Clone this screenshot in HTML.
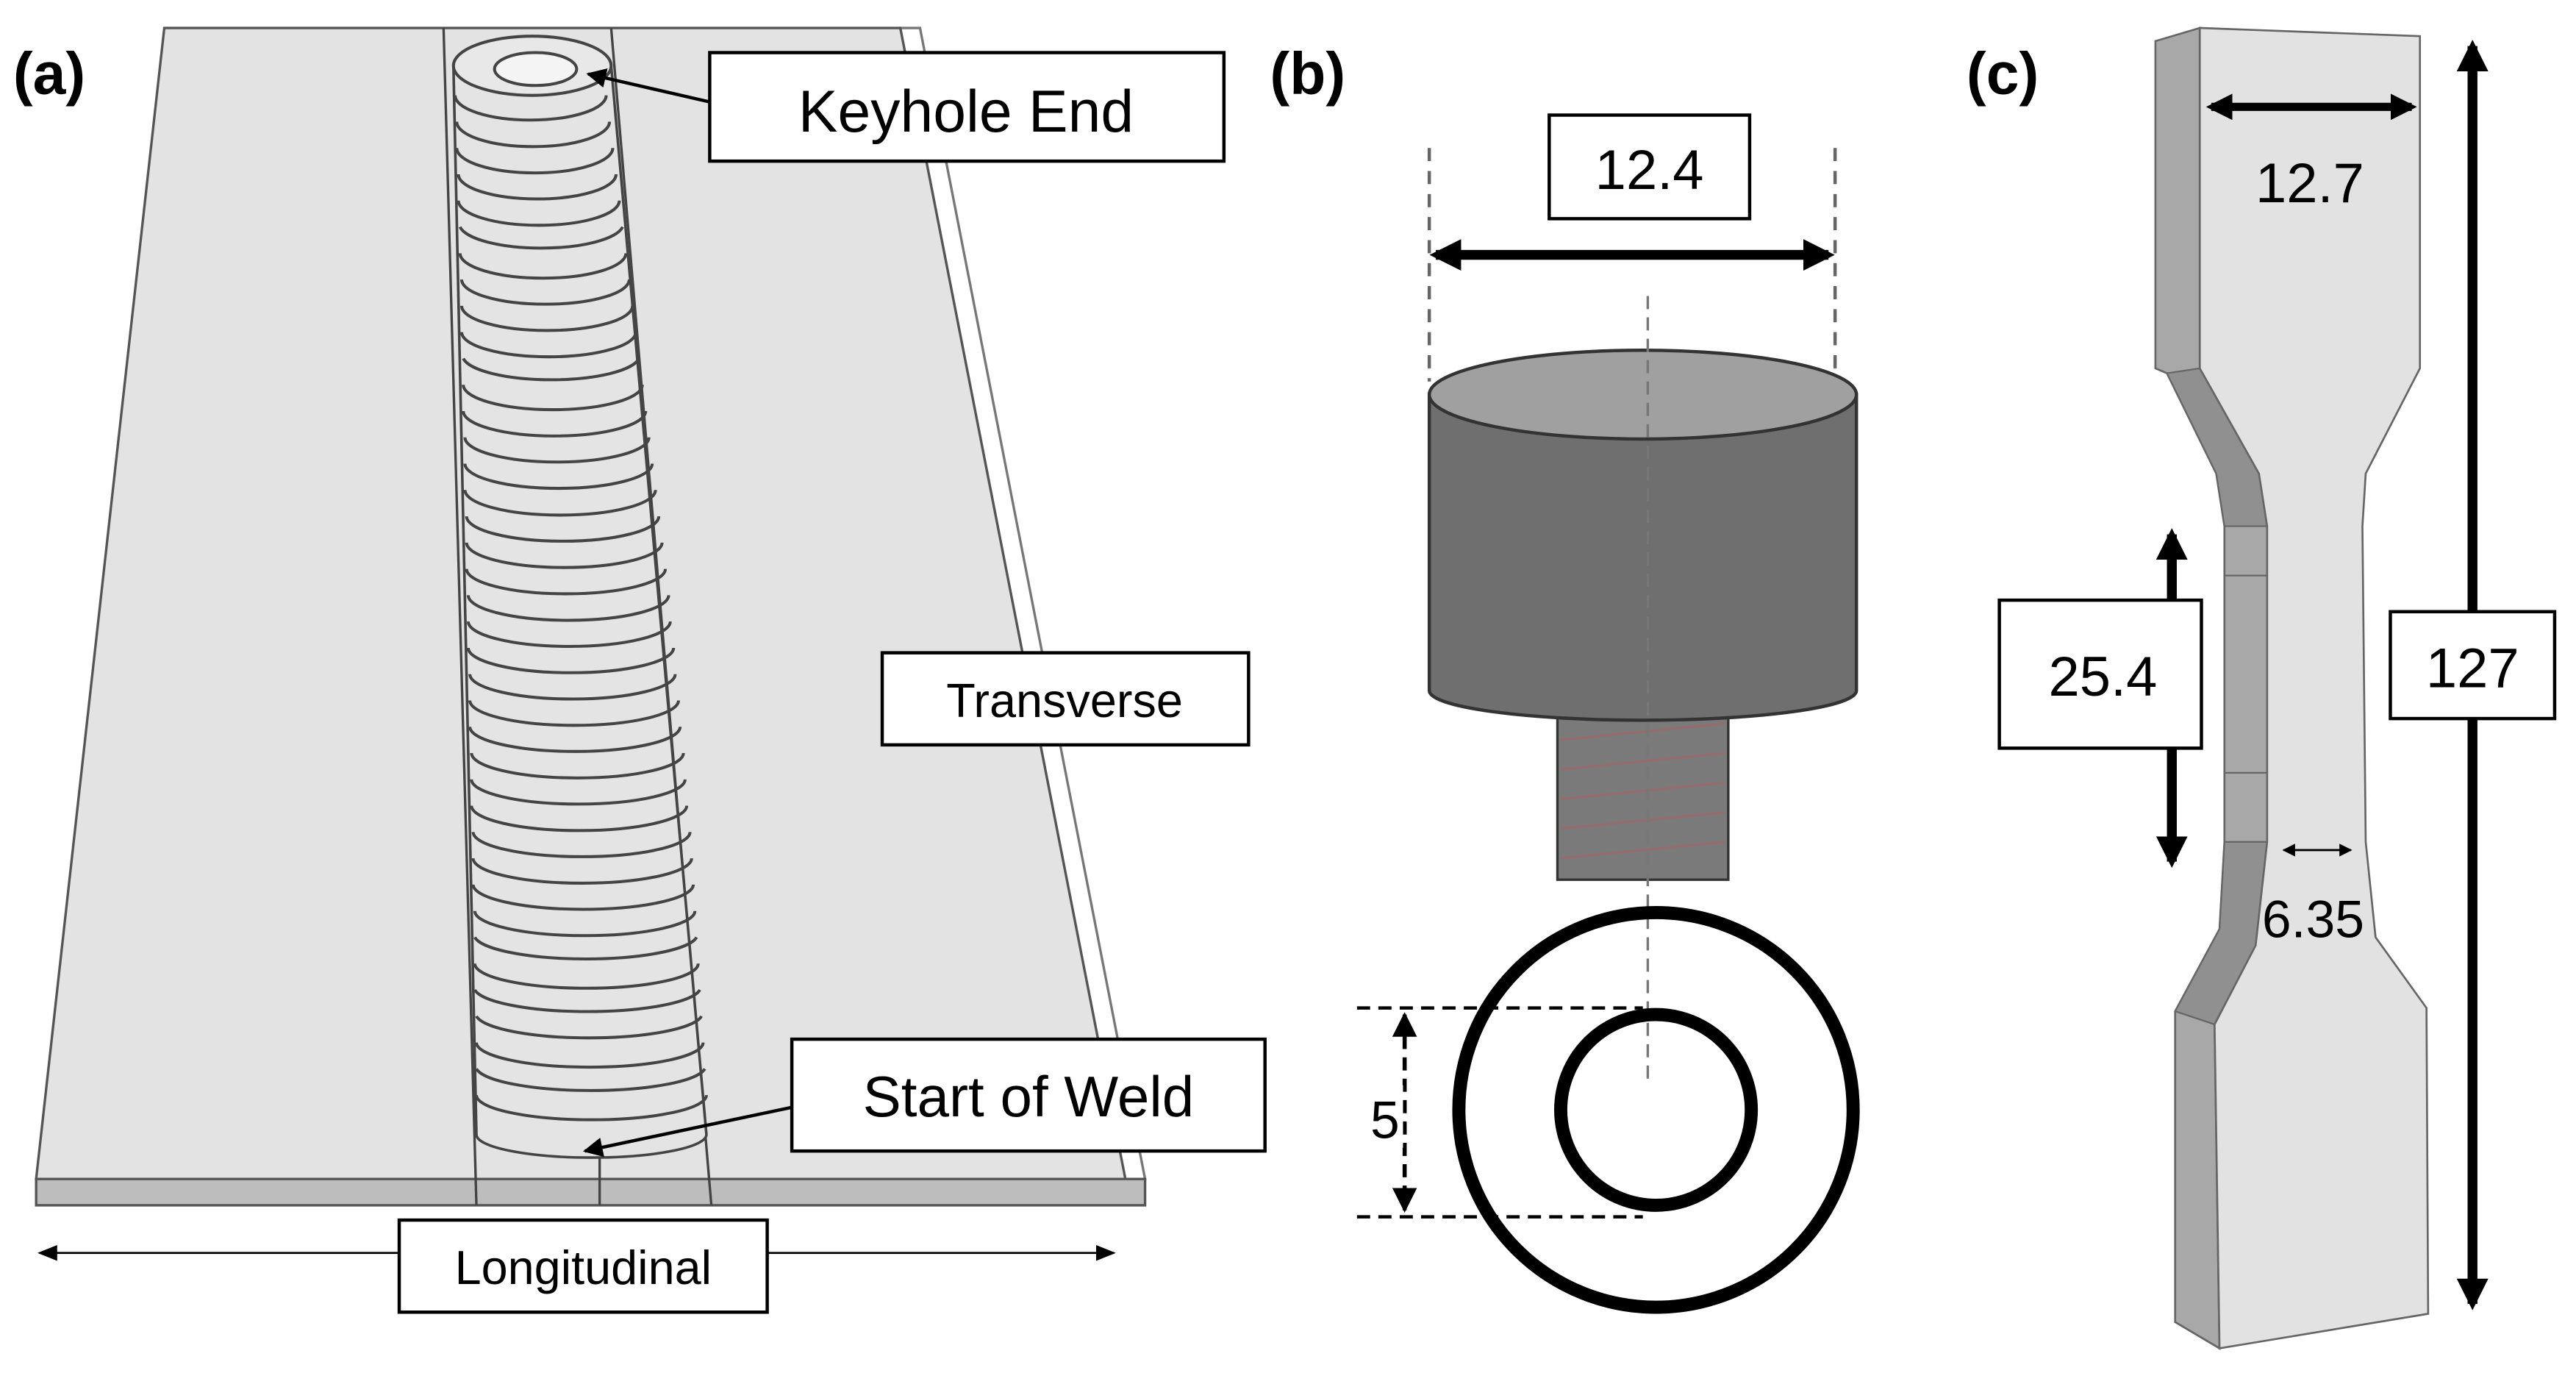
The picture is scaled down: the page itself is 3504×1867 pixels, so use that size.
<!DOCTYPE html>
<html><head><meta charset="utf-8"><style>
html,body{margin:0;padding:0;background:#fff;}
svg{display:block;}
text{font-family:"Liberation Sans",sans-serif;}
</style></head><body>
<svg width="3504" height="1867" viewBox="0 0 1568 835" preserveAspectRatio="none" xmlns="http://www.w3.org/2000/svg">
<defs>
<marker id="ah" viewBox="0 0 10 10" refX="9" refY="5" markerWidth="6" markerHeight="6" orient="auto-start-reverse"><path d="M0,0L10,5L0,10z" fill="#000"/></marker>
<marker id="ahs" viewBox="0 0 10 10" refX="9" refY="5" markerWidth="10" markerHeight="10" orient="auto-start-reverse"><path d="M0,1L10,5L0,9z" fill="#000"/></marker>
<marker id="ahb" viewBox="0 0 10 10" refX="8" refY="5" markerWidth="3.2" markerHeight="3.2" orient="auto-start-reverse"><path d="M0,0L10,5L0,10z" fill="#000"/></marker>
</defs>
<!-- Panel a -->
<polygon points="548,17 560,17 697,717 685,717" fill="#fff" stroke="#777" stroke-width="1.5"/>
<polygon points="100,17 548,17 685,717 22,717" fill="#e3e3e3" stroke="#555" stroke-width="1.5"/>
<polygon points="22,717 697,717 697,733 22,733" fill="#bdbdbd" stroke="#555" stroke-width="1.5"/>
<line x1="270" y1="17" x2="290" y2="733" stroke="#444" stroke-width="1.5"/>
<line x1="372" y1="17" x2="433" y2="733" stroke="#444" stroke-width="1.5"/>
<line x1="365" y1="700" x2="365" y2="733" stroke="#444" stroke-width="1.5"/>
<path d="M276,40 L290,690 A70,14 0 0 0 430,690 L372,40" fill="#e4e4e4" stroke="#444" stroke-width="1.6"/>
<g fill="none" stroke="#444" stroke-width="1.8">
<path d="M277,58 A46,15 0 0 0 369,58"/><path d="M278,74 A46,15 0 0 0 371,74"/><path d="M278,90 A47,15 0 0 0 373,90"/><path d="M279,106 A48,15 0 0 0 375,106"/><path d="M279,122 A49,15 0 0 0 377,122"/><path d="M280,138 A50,15 0 0 0 379,138"/><path d="M280,154 A50,15 0 0 0 381,154"/><path d="M281,170 A51,15 0 0 0 383,170"/><path d="M281,186 A52,15 0 0 0 385,186"/><path d="M281,202 A53,15 0 0 0 387,202"/><path d="M282,218 A54,15 0 0 0 389,218"/><path d="M282,234 A54,15 0 0 0 391,234"/><path d="M282,250 A55,15 0 0 0 393,250"/><path d="M283,266 A56,15 0 0 0 395,266"/><path d="M283,282 A57,15 0 0 0 397,282"/><path d="M283,298 A57,15 0 0 0 399,298"/><path d="M284,314 A58,15 0 0 0 401,314"/><path d="M284,330 A59,15 0 0 0 403,330"/><path d="M284,346 A60,15 0 0 0 405,346"/><path d="M285,362 A60,15 0 0 0 407,362"/><path d="M285,378 A61,15 0 0 0 408,378"/><path d="M285,394 A62,15 0 0 0 410,394"/><path d="M286,410 A62,15 0 0 0 411,410"/><path d="M286,426 A63,15 0 0 0 413,426"/><path d="M286,442 A64,15 0 0 0 414,442"/><path d="M287,458 A64,15 0 0 0 416,458"/><path d="M287,474 A65,15 0 0 0 417,474"/><path d="M287,490 A65,15 0 0 0 418,490"/><path d="M288,506 A66,15 0 0 0 420,506"/><path d="M288,522 A66,15 0 0 0 421,522"/><path d="M288,538 A67,15 0 0 0 422,538"/><path d="M289,554 A67,15 0 0 0 423,554"/><path d="M289,570 A68,15 0 0 0 424,570"/><path d="M289,586 A68,15 0 0 0 425,586"/><path d="M289,602 A69,15 0 0 0 426,602"/><path d="M290,618 A69,15 0 0 0 427,618"/><path d="M290,634 A69,15 0 0 0 428,634"/><path d="M290,650 A70,15 0 0 0 429,650"/><path d="M290,666 A70,15 0 0 0 430,666"/>
</g>
<ellipse cx="324" cy="40" rx="48" ry="18" fill="#e8e8e8" stroke="#444" stroke-width="1.8"/>
<ellipse cx="326" cy="42" rx="25" ry="10" fill="#f4f4f4" stroke="#444" stroke-width="1.8"/>
<text x="8" y="57" font-size="36" font-weight="bold">(a)</text>
<line x1="432" y1="62" x2="358" y2="45" stroke="#000" stroke-width="2" marker-end="url(#ah)"/>
<rect x="432" y="32" width="313" height="66" fill="#fff" stroke="#000" stroke-width="2"/>
<text x="588" y="80" font-size="36" text-anchor="middle">Keyhole End</text>
<rect x="537" y="397" width="223" height="56" fill="#fff" stroke="#000" stroke-width="2"/>
<text x="648" y="436" font-size="29" text-anchor="middle">Transverse</text>
<line x1="484" y1="673" x2="356" y2="700" stroke="#000" stroke-width="2" marker-end="url(#ah)"/>
<rect x="482" y="632" width="288" height="68" fill="#fff" stroke="#000" stroke-width="2"/>
<text x="626" y="679" font-size="35" text-anchor="middle">Start of Weld</text>
<line x1="24" y1="762" x2="678" y2="762" stroke="#000" stroke-width="1.2" marker-start="url(#ahs)" marker-end="url(#ahs)"/>
<rect x="243" y="742" width="224" height="56" fill="#fff" stroke="#000" stroke-width="2"/>
<text x="355" y="781" font-size="29" text-anchor="middle">Longitudinal</text>
<!-- Panel b -->
<text x="773" y="57" font-size="36" font-weight="bold">(b)</text>
<line x1="870" y1="90" x2="870" y2="232" stroke="#666" stroke-width="2" stroke-dasharray="8,6"/>
<line x1="1117" y1="90" x2="1117" y2="232" stroke="#666" stroke-width="2" stroke-dasharray="8,6"/>
<line x1="874" y1="155" x2="1113" y2="155" stroke="#000" stroke-width="6" marker-start="url(#ahb)" marker-end="url(#ahb)"/>
<rect x="943" y="70" width="122" height="63" fill="#fff" stroke="#000" stroke-width="2"/>
<text x="1004" y="115" font-size="34" text-anchor="middle">12.4</text>
<rect x="948" y="430" width="104" height="105" fill="#7a7a7a" stroke="#333" stroke-width="1.5"/>
<g stroke="#9a6a6a" stroke-width="1.2"><line x1="950" y1="450" x2="1050" y2="440"/><line x1="950" y1="468" x2="1050" y2="458"/><line x1="950" y1="486" x2="1050" y2="476"/><line x1="950" y1="504" x2="1050" y2="494"/><line x1="950" y1="522" x2="1050" y2="512"/></g>
<path d="M870,240 L870,420 A130,18 0 0 0 1130,420 L1130,240z" fill="#6f6f6f" stroke="#333" stroke-width="2"/>
<ellipse cx="1000" cy="240" rx="130" ry="27" fill="#a0a0a0" stroke="#333" stroke-width="2"/>
<line x1="1003" y1="180" x2="1003" y2="660" stroke="#777" stroke-width="1.5" stroke-dasharray="8,5"/>
<circle cx="1008" cy="675" r="120" fill="none" stroke="#000" stroke-width="8"/>
<circle cx="1008" cy="675" r="58" fill="none" stroke="#000" stroke-width="8"/>
<line x1="826" y1="613" x2="1000" y2="613" stroke="#000" stroke-width="2" stroke-dasharray="8,5"/>
<line x1="826" y1="740" x2="1000" y2="740" stroke="#000" stroke-width="2" stroke-dasharray="8,5"/>
<line x1="855" y1="617" x2="855" y2="736" stroke="#000" stroke-width="2.5" stroke-dasharray="8,5" marker-start="url(#ah)" marker-end="url(#ah)"/>
<rect x="832" y="660" width="22" height="38" fill="#fff"/>
<text x="843" y="692" font-size="32" text-anchor="middle">5</text>
<!-- Panel c -->
<text x="1197" y="57" font-size="36" font-weight="bold">(c)</text>
<path d="M1312,25 L1339,17 L1339,224 L1375,288 L1380,320 L1380,512 L1373,575 L1348,623 L1351,820 L1324,804 L1324,615 L1351,565 L1354,512 L1354,320 L1349,288 L1319,227 L1312,224 Z" fill="#a8a8a8" stroke="#666" stroke-width="1.2"/>
<path d="M1319,227 L1339,224 L1375,288 L1380,320 L1354,320 L1349,288 Z" fill="#909090" stroke="#666" stroke-width="1"/>
<path d="M1354,512 L1380,512 L1373,575 L1348,623 L1324,615 L1351,565 Z" fill="#909090" stroke="#666" stroke-width="1"/>
<line x1="1354" y1="350" x2="1380" y2="350" stroke="#666" stroke-width="1"/>
<line x1="1354" y1="470" x2="1380" y2="470" stroke="#666" stroke-width="1"/>
<path d="M1339,17 L1473,22 L1473,224 L1440,288 L1438,320 L1440,512 L1446,570 L1477,613 L1478,799 L1351,820 L1348,623 L1373,575 L1380,512 L1380,320 L1375,288 L1339,224 Z" fill="#e2e2e2" stroke="#666" stroke-width="1.2"/>
<line x1="1346" y1="65" x2="1468" y2="65" stroke="#000" stroke-width="5" marker-start="url(#ahb)" marker-end="url(#ahb)"/>
<text x="1406" y="123" font-size="34" text-anchor="middle">12.7</text>
<line x1="1505" y1="28" x2="1505" y2="793" stroke="#000" stroke-width="6" marker-start="url(#ahb)" marker-end="url(#ahb)"/>
<rect x="1455" y="372" width="100" height="65" fill="#fff" stroke="#000" stroke-width="2"/>
<text x="1505" y="418" font-size="34" text-anchor="middle">127</text>
<line x1="1322" y1="325" x2="1322" y2="524" stroke="#000" stroke-width="6" marker-start="url(#ahb)" marker-end="url(#ahb)"/>
<rect x="1217" y="365" width="123" height="90" fill="#fff" stroke="#000" stroke-width="2"/>
<text x="1280" y="423" font-size="34" text-anchor="middle">25.4</text>
<line x1="1390" y1="517" x2="1431" y2="517" stroke="#000" stroke-width="1.3" marker-start="url(#ah)" marker-end="url(#ah)"/>
<text x="1408" y="570" font-size="32" text-anchor="middle">6.35</text>
</svg>
</body></html>
